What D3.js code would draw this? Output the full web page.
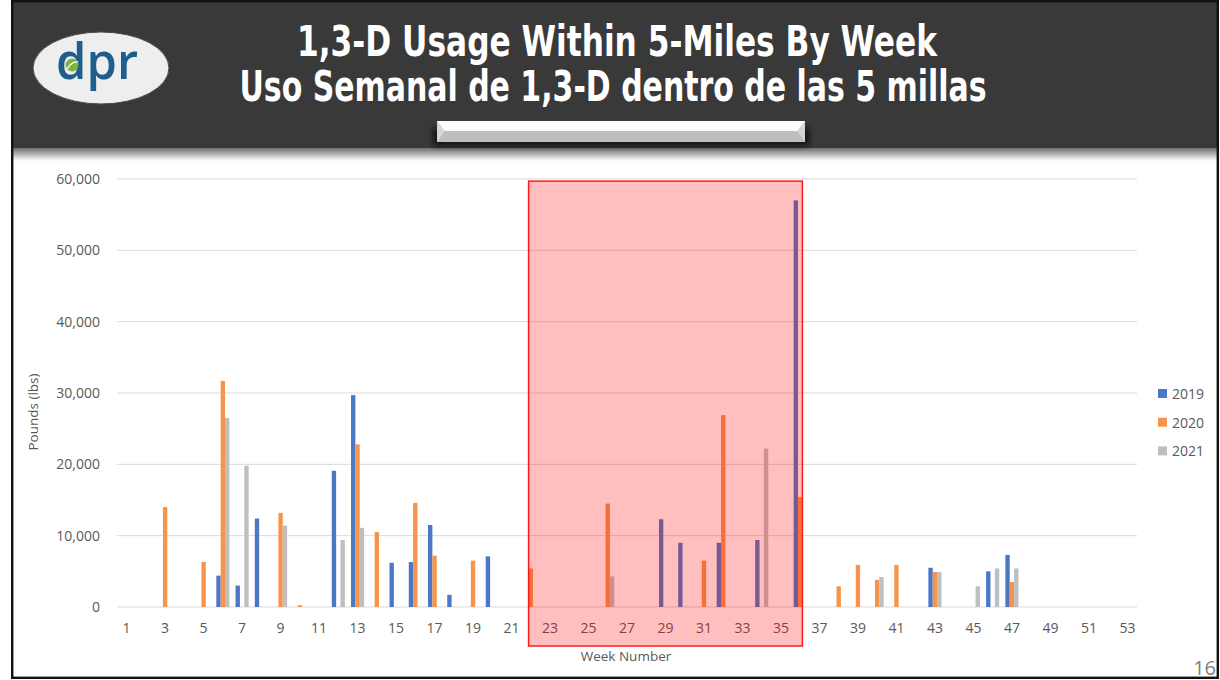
<!DOCTYPE html>
<html lang="en">
<head>
    <meta charset="UTF-8">
    <title>1,3-D Usage Within 5-Miles By Week</title>
    <style>
        body { margin: 0; background: #fff; }
        .tick text { font-family: 'Open Sans', 'Noto Sans', sans-serif; font-size: 14px; fill: #595959; }
        .axis-label { font-family: 'Open Sans', 'Noto Sans', sans-serif; font-size: 13.5px; fill: #595959; }
        .title { font-family: 'Liberation Sans Narrow', 'DejaVu Sans Condensed', 'Arial Narrow', sans-serif; font-weight: bold; fill: #fff; }
    </style>
    <script src="https://d3js.org/d3.v7.min.js"></script>
</head>
<body>
<svg id="chart" width="1220" height="680"></svg>
<script>
    // week numbers on the x axis
    const weeks = d3.range(1, 54);
    const series = ["2019", "2020", "2021"];
    const colors = ["#4A78C6", "#F5944A", "#BFBFBF"];

    // pounds per week, one value per week 1..53 (0 = no use)
    const use2019 = [0,0,0,0,0,4400,3000,12400,0,0, 0,19100,29700,0,6200,6300,11500,1700,0,7100,
                     0,0,0,0,0,0,0,0,12300,9000, 0,9000,0,9400,0,57000,0,0,0,0,
                     0,0,5500,0,0,5000,7300,0,0,0, 0,0,0];
    const use2020 = [0,0,14000,0,6300,31700,0,0,13200,250, 0,0,22800,10500,0,14600,7200,0,6500,0,
                     0,5400,0,0,0,14500,0,0,0,0, 6500,26900,0,0,0,15400,0,2900,5900,3800,
                     5900,0,4900,0,0,0,3500,0,0,0, 0,0,0];
    const use2021 = [0,0,0,0,0,26500,19800,0,11400,0, 0,9400,11100,0,0,0,0,0,0,0,
                     0,0,0,0,0,4300,0,0,0,0, 0,0,0,22200,0,0,0,0,0,4200,
                     0,0,4900,0,2900,5400,5400,0,0,0, 0,0,0];

    const yTicks = [0, 10000, 20000, 30000, 40000, 50000, 60000];
    const xTicks = weeks.filter(w => w % 2 === 1);

    // highlighted span (weeks) and its top value
    const highlightWeeks = [22, 36];
    const highlightTop = 59700;

    const values = [use2019, use2020, use2021];
    const rows = [];
    weeks.forEach((w, i) => {
        series.forEach((s, j) => rows.push({week: w, year: s, value: values[j][i]}));
    });

    const svg = d3.select("#chart");
    const plot = {left: 117, right: 1137, top: 179, bottom: 607};

    // ---------- header ----------
    const defs = svg.append("defs");
    const fade = defs.append("linearGradient").attr("id", "fade")
        .attr("x1", 0).attr("y1", 0).attr("x2", 0).attr("y2", 1);
    fade.append("stop").attr("offset", "0%").attr("stop-color", "#6e6e6e");
    fade.append("stop").attr("offset", "100%").attr("stop-color", "#ffffff");

    const blur = defs.append("filter").attr("id", "shadow").attr("x", "-10%").attr("y", "-50%")
        .attr("width", "120%").attr("height", "200%");
    blur.append("feGaussianBlur").attr("stdDeviation", 2.5);

    svg.append("rect").attr("x", 12).attr("y", 1).attr("width", 1206).attr("height", 148)
        .attr("fill", "#3A3939");
    svg.append("rect").attr("x", 12).attr("y", 148).attr("width", 1206).attr("height", 13)
        .attr("fill", "url(#fade)");

    // logo
    svg.append("ellipse").attr("cx", 101).attr("cy", 68).attr("rx", 68).attr("ry", 36)
        .attr("fill", "#EEEEEE").attr("stroke", "#4a4a4a").attr("stroke-width", 1);
    svg.append("text").attr("x", 97).attr("y", 79)
        .attr("text-anchor", "middle")
        .attr("textLength", 82).attr("lengthAdjust", "spacingAndGlyphs")
        .style("font-family", "'Open Sans', sans-serif").style("font-size", "50px")
        .style("font-weight", 600)
        .style("fill", "#1E5E8D")
        .text("dpr");
    svg.append("circle").attr("cx", 72).attr("cy", 65).attr("r", 6.5).attr("fill", "#7CB342");
    svg.append("path").attr("d", "M67,69 Q72,61 78,62").attr("fill", "none")
        .attr("stroke", "#fff").attr("stroke-width", 1.3);

    // titles
    svg.append("text").attr("class", "title").attr("x", 617).attr("y", 56)
        .attr("text-anchor", "middle").style("font-size", "42px")
        .attr("textLength", 640).attr("lengthAdjust", "spacingAndGlyphs")
        .text("1,3-D Usage Within 5-Miles By Week");
    svg.append("text").attr("class", "title").attr("x", 613).attr("y", 101)
        .attr("text-anchor", "middle").style("font-size", "42px")
        .attr("textLength", 747).attr("lengthAdjust", "spacingAndGlyphs")
        .text("Uso Semanal de 1,3-D dentro de las 5 millas");

    // silver bar
    svg.append("rect").attr("x", 433).attr("y", 128).attr("width", 376).attr("height", 18)
        .attr("fill", "#111").attr("opacity", 0.8).attr("filter", "url(#shadow)");
    svg.append("rect").attr("x", 437).attr("y", 121).attr("width", 368).attr("height", 21)
        .attr("fill", "#BEBEBE");
    svg.append("rect").attr("x", 437).attr("y", 121).attr("width", 368).attr("height", 10)
        .attr("fill", "#FDFDFD");
    svg.append("polygon").attr("points", "437,121 445,131 437,142").attr("fill", "#D6D6D6");
    svg.append("polygon").attr("points", "805,121 797,131 805,142").attr("fill", "#D6D6D6");

    // ---------- chart ----------
    const x = d3.scaleBand().domain(weeks).range([plot.left, plot.right])
        .paddingInner(0.32).paddingOuter(0.16);
    const xs = d3.scaleBand().domain(series).range([0, x.bandwidth()]);
    const y = d3.scaleLinear().domain([0, 60000]).range([plot.bottom, plot.top]);
    const color = d3.scaleOrdinal().domain(series).range(colors);

    svg.append("g").selectAll("line").data(yTicks).join("line")
        .attr("x1", plot.left).attr("x2", plot.right)
        .attr("y1", d => y(d)).attr("y2", d => y(d))
        .attr("stroke", "#D9D9D9").attr("stroke-width", 1);

    const yAxis = svg.append("g").attr("transform", "translate(" + (plot.left - 1) + ",0)")
        .call(d3.axisLeft(y).tickValues(yTicks).tickFormat(d3.format(",")).tickSize(0).tickPadding(16));
    yAxis.select(".domain").remove();

    const xAxis = svg.append("g").attr("transform", "translate(0," + plot.bottom + ")")
        .call(d3.axisBottom(x).tickValues(xTicks).tickSize(0).tickPadding(16));
    xAxis.select(".domain").remove();

    svg.append("g").selectAll("rect").data(rows.filter(d => d.value > 0)).join("rect")
        .attr("x", d => x(d.week) + xs(d.year))
        .attr("width", xs.bandwidth())
        .attr("y", d => y(d.value))
        .attr("height", d => y(0) - y(d.value))
        .attr("fill", d => color(d.year));

    // axis titles
    svg.append("text").attr("class", "axis-label")
        .attr("transform", "translate(38,412) rotate(-90)")
        .attr("text-anchor", "middle").text("Pounds (lbs)");
    svg.append("text").attr("class", "axis-label")
        .attr("x", 626).attr("y", 661).attr("text-anchor", "middle").text("Week Number");

    // legend
    const legend = svg.append("g").selectAll("g").data(series).join("g")
        .attr("transform", (d, i) => "translate(1158," + (389 + i * 28.7) + ")");
    legend.append("rect").attr("width", 9).attr("height", 9).attr("fill", d => color(d));
    legend.append("text").attr("x", 14).attr("y", 10)
        .attr("class", "axis-label").style("font-size", "14px").text(d => d);

    // highlighted span
    const hx0 = x(highlightWeeks[0]) + xs("2020");
    const hx1 = x(highlightWeeks[1]) + xs("2020") + xs.bandwidth();
    svg.append("rect")
        .attr("x", hx0).attr("y", y(highlightTop))
        .attr("width", hx1 - hx0).attr("height", 646 - y(highlightTop))
        .attr("fill", "rgba(255,0,0,0.25)")
        .attr("stroke", "#FF1A1A").attr("stroke-width", 1.5);

    // page number
    svg.append("text").attr("x", 1216).attr("y", 675).attr("text-anchor", "end")
        .style("font-family", "'Open Sans', sans-serif").style("font-size", "20px")
        .style("fill", "#7F7F7F").text("16");

    // frame
    svg.append("rect").attr("x", 12.2).attr("y", 1.2).attr("width", 1205.6).attr("height", 676.6)
        .attr("fill", "none").attr("stroke", "#111").attr("stroke-width", 2.4);
</script>
</body>
</html>
